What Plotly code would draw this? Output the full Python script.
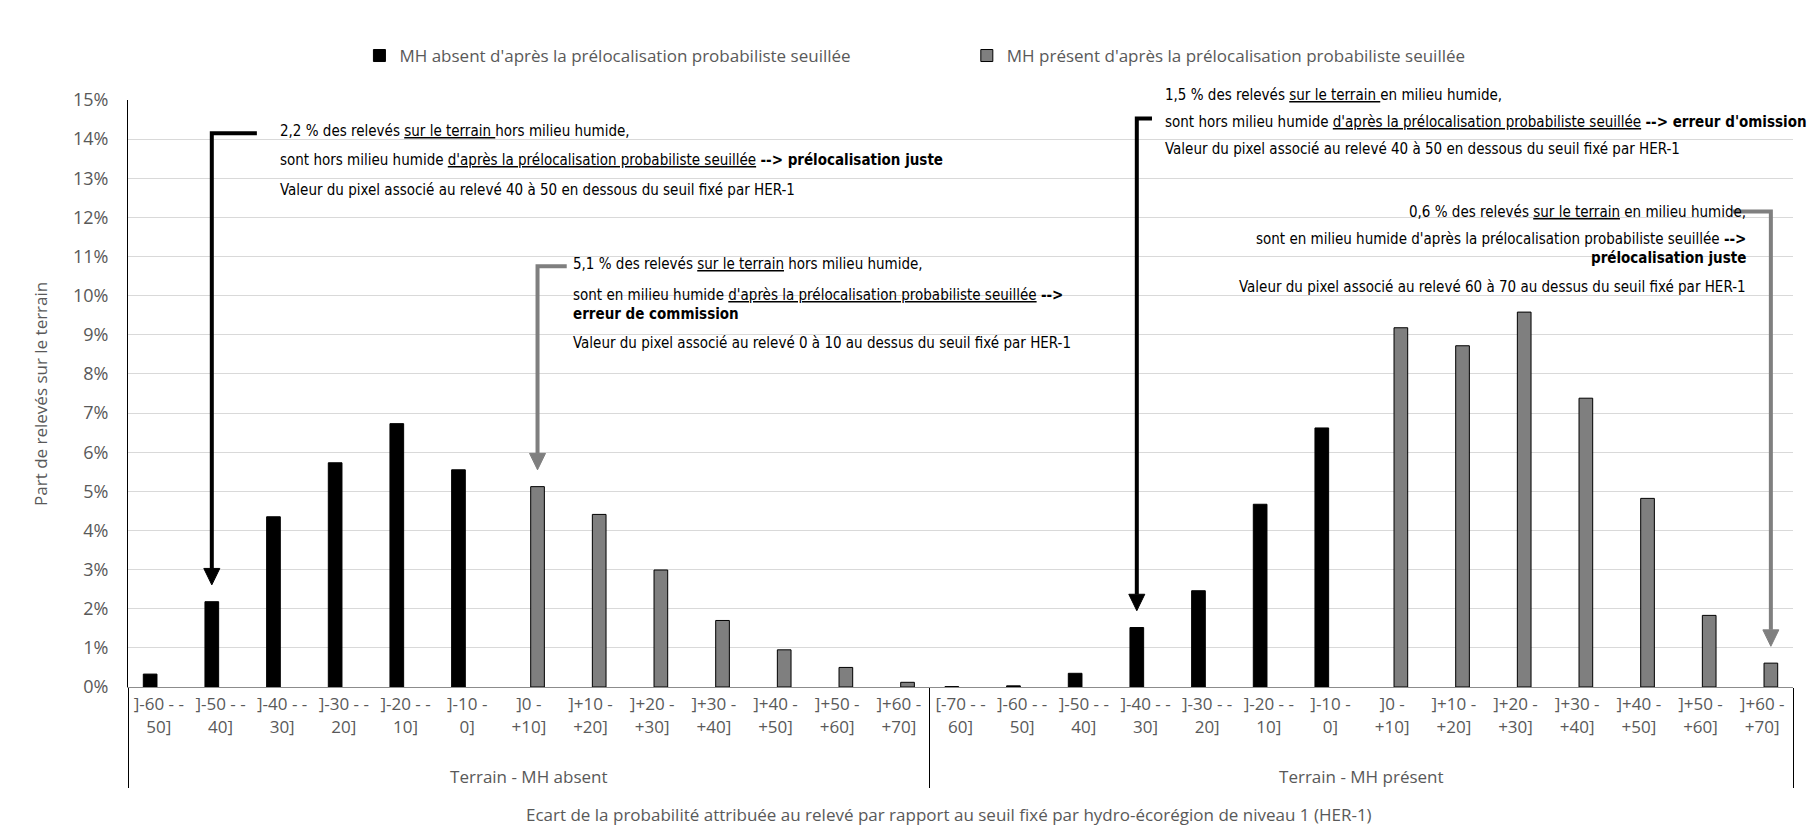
import plotly.graph_objects as go

# categories (x axis, two levels)
groups = ["Terrain - MH absent"] * 13 + ["Terrain - MH présent"] * 14
intervals_absent = ["]-60 - -<br>50]", "]-50 - -<br>40]", "]-40 - -<br>30]", "]-30 - -<br>20]",
                    "]-20 - -<br>10]", "]-10 -<br>0]", "]0 -<br>+10]", "]+10 -<br>+20]",
                    "]+20 -<br>+30]", "]+30 -<br>+40]", "]+40 -<br>+50]", "]+50 -<br>+60]",
                    "]+60 -<br>+70]"]
intervals_present = ["[-70 - -<br>60]"] + intervals_absent
# a tall blank 3rd line pushes the group labels down; trailing space keeps the second
# group's labels distinct so plotly keeps their order
PAD = "<br><span style='font-size:33px'>\u00a0</span>"
intervals = [c + PAD for c in intervals_absent] + [c + PAD + " " for c in intervals_present]

# values (% of field records)
absent_black = [0.33, 2.18, 4.35, 5.73, 6.73, 5.55]
absent_gray = [5.12, 4.41, 2.99, 1.70, 0.95, 0.50, 0.12]
present_black = [0.01, 0.03, 0.35, 1.52, 2.46, 4.67, 6.62]
present_gray = [9.18, 8.72, 9.58, 7.38, 4.82, 1.83, 0.61]

black_vals = absent_black + [None] * len(absent_gray) + present_black + [None] * len(present_gray)
gray_vals = [None] * len(absent_black) + absent_gray + [None] * len(present_black) + present_gray

N = len(intervals)
YMAX = 15
GRAY = "#7f7f7f"
TXT = "#595959"
NARROW = "Liberation Sans Narrow, DejaVu Sans Condensed, Arial Narrow, sans-serif"

fig = go.Figure()
fig.add_trace(go.Bar(
    name="MH absent d'après la prélocalisation probabiliste seuillée",
    x=[groups, intervals], y=black_vals,
    marker=dict(color="black", line=dict(color="black", width=1)),
    legend="legend",
))
fig.add_trace(go.Bar(
    name="MH présent d'après la prélocalisation probabiliste seuillée",
    x=[groups, intervals], y=gray_vals,
    marker=dict(color=GRAY, line=dict(color="black", width=1)),
    legend="legend2",
))

# bar offset inside a category (two slots per category)
bargap = 0.436
half_slot = (1 - bargap) / 4


def px(i, side):
    # paper x of a bar: side -1 black slot, +1 gray slot
    return (i + 0.5 + side * half_slot) / N


shapes = []
annotations = []


def white_box(x0, x1, y0, y1):
    shapes.append(dict(type="rect", xref="paper", yref="y", x0=x0, x1=x1, y0=y0, y1=y1,
                       fillcolor="white", line=dict(width=0), layer="between"))


def elbow(x_start, y_level, idx, side, value, color):
    xb = px(idx, side)
    tip = value + 0.43
    base = tip + 0.42
    shapes.append(dict(type="path", xref="paper", yref="y",
                       path=f"M {x_start},{y_level} L {xb},{y_level} L {xb},{base}",
                       line=dict(color=color, width=4)))
    hw = 8 / 1665
    shapes.append(dict(type="path", xref="paper", yref="y",
                       path=f"M {xb - hw},{base} L {xb + hw},{base} L {xb},{tip} Z",
                       fillcolor=color, line=dict(color=color, width=1)))


def text_lines(x, ys, lines, xanchor="left"):
    for y, t in zip(ys, lines):
        annotations.append(dict(xref="paper", yref="paper", x=x, y=y / YMAX, text=t, showarrow=False,
                                xanchor=xanchor, yanchor="middle", align=xanchor,
                                font=dict(family=NARROW, size=15, color="black")))


# block 1
white_box(0.085, 0.52, 12.35, 14.6)
elbow(0.0774, 14.15, 1, -1, absent_black[1], "black")
text_lines(0.0899, [14.20, 13.46, 12.71], [
    "2,2 % des relevés <u>sur le terrain </u>hors milieu humide,",
    "sont hors milieu humide <u>d'après la prélocalisation probabiliste seuillée</u> <b>--> prélocalisation juste</b>",
    "Valeur du pixel associé au relevé 40 à 50 en dessous du seuil fixé par HER-1",
])

# block 2
white_box(0.26, 0.578, 8.5, 10.9)
elbow(0.2635, 10.75, 6, 1, absent_gray[0], GRAY)
text_lines(0.2659, [10.80, 10.01, 9.52, 8.78], [
    "5,1 % des relevés <u>sur le terrain</u> hors milieu humide,",
    "sont en milieu humide <u>d'après la prélocalisation probabiliste seuillée</u> <b>--></b>",
    "<b>erreur de commission</b>",
    "Valeur du pixel associé au relevé 0 à 10 au dessus du seuil fixé par HER-1",
])

# block 3
white_box(0.617, 1.0, 13.4, 15.0)
elbow(0.615, 14.53, 16, -1, present_black[3], "black")
text_lines(0.6215, [15.14, 14.43, 13.74], [
    "1,5 % des relevés <u>sur le terrain </u>en milieu humide,",
    "sont hors milieu humide <u>d'après la prélocalisation probabiliste seuillée</u> <b>--> erreur d'omission</b>",
    "Valeur du pixel associé au relevé 40 à 50 en dessous du seuil fixé par HER-1",
])

# block 4
white_box(0.641, 0.993, 9.85, 12.45)
elbow(0.9638, 12.15, 26, 1, present_gray[6], GRAY)
text_lines(0.9728, [12.15, 11.44, 10.95, 10.21], [
    "0,6 % des relevés <u>sur le terrain</u> en milieu humide,",
    "sont en milieu humide d'après la prélocalisation probabiliste seuillée <b>--></b>",
    "<b>prélocalisation juste</b>",
    "Valeur du pixel associé au relevé 60 à 70 au dessus du seuil fixé par HER-1",
], xanchor="right")

# axis titles as annotations (fixed margins ignore title standoff)
annotations.append(dict(xref="paper", yref="paper", x=-0.0526, y=0.5, textangle=-90, showarrow=False,
                        text="Part de relevés sur le terrain", xanchor="center", yanchor="middle",
                        font=dict(size=17, color=TXT)))
annotations.append(dict(xref="paper", yref="paper", x=0.4928, y=-0.2164, showarrow=False,
                        text="Ecart de la probabilité attribuée au relevé par rapport au seuil fixé par hydro-écorégion de niveau 1 (HER-1)",
                        xanchor="center", yanchor="middle", font=dict(size=17, color=TXT)))

# the page body adds an 8 px offset, margins are trimmed for it
fig.update_layout(
    width=1816, height=834,
    margin=dict(l=120, r=31, t=92, b=155, autoexpand=False),
    plot_bgcolor="white", paper_bgcolor="white",
    font=dict(family="Open Sans", size=17, color=TXT),
    barmode="group", bargap=bargap, bargroupgap=0.213,
    showlegend=True,
    legend=dict(orientation="h", x=0.139, xanchor="left", y=1.075, yanchor="middle",
                font=dict(size=17, color=TXT), bgcolor="rgba(0,0,0,0)"),
    legend2=dict(orientation="h", x=0.5038, xanchor="left", y=1.075, yanchor="middle",
                 font=dict(size=17, color=TXT), bgcolor="rgba(0,0,0,0)"),
    xaxis=dict(type="multicategory", showline=True, linecolor="#8c8c8c", linewidth=1,
               showdividers=True, dividercolor="black", dividerwidth=1,
               ticks="", ticklabelstandoff=2,
               tickfont=dict(size=17, color=TXT), showgrid=False),
    yaxis=dict(range=[0, YMAX], dtick=1, ticksuffix="%", showline=True, linecolor="black", linewidth=1,
               showgrid=True, gridcolor="#d9d9d9", gridwidth=1, zeroline=False,
               tickfont=dict(size=18, color=TXT), ticklabelstandoff=15),
    shapes=shapes,
    annotations=annotations,
)

fig.write_html("out.html")
